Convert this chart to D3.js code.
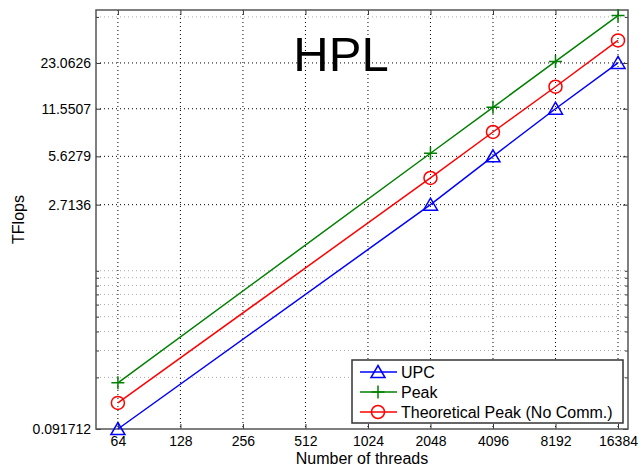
<!DOCTYPE html>
<meta charset="utf-8">
<style>
body { margin: 0; background: #fff; }
text { font-family: "Liberation Sans", Arial, Helvetica, sans-serif; fill: #000; }
.tick text { font-size: 14px; }
</style>
<svg width="642" height="467"></svg>
<script src="https://d3js.org/d3.v7.min.js"></script>
<script>

// HPL performance vs number of threads (log-log)
var threads = [64, 2048, 4096, 8192, 16384];
var upc = [0.091712, 2.7136, 5.6279, 11.5507, 23.0626];
var peak = [0.1843, 5.898, 11.80, 23.59, 47.19];
var theoPeak = [0.136, 4.06, 8.13, 16.1, 32.4];

var xTicks = [64, 128, 256, 512, 1024, 2048, 4096, 8192, 16384];
var yTicks = [0.091712, 2.7136, 5.6279, 11.5507, 23.0626];
var yMinor = [0.2, 0.3, 0.4, 0.5, 0.6, 0.7, 0.8, 0.9, 1, 46.2];

var series = [
  {name: "UPC", values: upc, color: "#0000ff", marker: "triangle"},
  {name: "Peak", values: peak, color: "#008000", marker: "plus"},
  {name: "Theoretical Peak (No Comm.)", values: theoPeak, color: "#ff0000", marker: "circle"}
];

// plot box (note: "top" is reserved on window, so use px names)
var svg = d3.select("svg"),
    pxLeft = 96, pxRight = 628, pxTop = 10, pxBottom = 429;

var x = d3.scaleLog().base(2)
    .domain([50.2, 18304])
    .range([pxLeft, pxRight]);

var y = d3.scaleLog()
    .domain([0.091712, 51.3])
    .range([pxBottom, pxTop]);

// grid
var grid = svg.append("g");
grid.selectAll(".ymin").data(yMinor).enter().append("line")
    .attr("x1", pxLeft).attr("x2", pxRight)
    .attr("y1", function(d) { return y(d); }).attr("y2", function(d) { return y(d); })
    .attr("stroke", "#aaa").attr("stroke-width", 1).attr("stroke-dasharray", "1,3");
grid.selectAll(".ymaj").data(yTicks.slice(1)).enter().append("line")
    .attr("x1", pxLeft).attr("x2", pxRight)
    .attr("y1", function(d) { return y(d); }).attr("y2", function(d) { return y(d); })
    .attr("stroke", "#000").attr("stroke-width", 1).attr("stroke-dasharray", "1,3");
grid.selectAll(".xmaj").data(xTicks).enter().append("line")
    .attr("y1", pxTop).attr("y2", pxBottom)
    .attr("x1", function(d) { return x(d); }).attr("x2", function(d) { return x(d); })
    .attr("stroke", "#000").attr("stroke-width", 1).attr("stroke-dasharray", "1,3");

// axes (ticks inside, as in the original)
var xAxis = svg.append("g")
    .attr("transform", "translate(0," + pxBottom + ")")
    .call(d3.axisBottom(x).tickValues(xTicks).tickFormat(d3.format("d")).tickSizeInner(-5).tickSizeOuter(0).tickPadding(7));
svg.append("g")
    .attr("transform", "translate(0," + pxTop + ")")
    .call(d3.axisTop(x).tickValues(xTicks).tickFormat("").tickSizeInner(-5).tickSizeOuter(0));
svg.append("g")
    .attr("transform", "translate(" + pxLeft + ",0)")
    .call(d3.axisLeft(y).tickValues(yTicks).tickFormat(function(d) { return String(d); }).tickSizeInner(-5).tickSizeOuter(0).tickPadding(5));
svg.append("g")
    .attr("transform", "translate(" + pxRight + ",0)")
    .call(d3.axisRight(y).tickValues(yTicks).tickFormat("").tickSizeInner(-5).tickSizeOuter(0));
svg.append("g").attr("transform", "translate(" + pxLeft + ",0)")
    .call(d3.axisLeft(y).tickValues(yMinor).tickFormat("").tickSizeInner(-3).tickSizeOuter(0));
svg.append("g").attr("transform", "translate(" + pxRight + ",0)")
    .call(d3.axisRight(y).tickValues(yMinor).tickFormat("").tickSizeInner(-3).tickSizeOuter(0));

svg.selectAll(".domain").remove();
svg.selectAll(".tick line").attr("stroke", "#333");
xAxis.selectAll("text").attr("dy", "0.71em");

// frame
svg.append("rect")
    .attr("x", pxLeft).attr("y", pxTop)
    .attr("width", pxRight - pxLeft).attr("height", pxBottom - pxTop)
    .attr("fill", "none").attr("stroke", "#555").attr("stroke-width", 1.5);

// lines + markers
var line = d3.line()
    .x(function(d, i) { return x(threads[i]); })
    .y(function(d) { return y(d); });

function drawMarker(g, type, color) {
  if (type == "triangle") {
    g.append("path").attr("d", "M0,-6.5L7,5.5L-7,5.5Z")
      .attr("fill", "none").attr("stroke", color).attr("stroke-width", 1.5);
  } else if (type == "circle") {
    g.append("circle").attr("r", 6.5)
      .attr("fill", "none").attr("stroke", color).attr("stroke-width", 1.5);
  } else {
    g.append("path").attr("d", "M-6.5,0H6.5M0,-6.5V6.5")
      .attr("fill", "none").attr("stroke", color).attr("stroke-width", 1.5);
  }
}

series.forEach(function(s) {
  svg.append("path")
    .datum(s.values)
    .attr("d", line)
    .attr("fill", "none")
    .attr("stroke", s.color)
    .attr("stroke-width", 1.5);
  s.values.forEach(function(v, i) {
    var m = svg.append("g").attr("transform", "translate(" + x(threads[i]) + "," + y(v) + ")");
    drawMarker(m, s.marker, s.color);
  });
});

// title
svg.append("text")
  .attr("x", 341).attr("y", 71)
  .attr("text-anchor", "middle")
  .style("font-size", "49px")
  .text("HPL");

// axis labels
svg.append("text")
  .attr("x", 362).attr("y", 464)
  .attr("text-anchor", "middle")
  .style("font-size", "16px")
  .text("Number of threads");
svg.append("text")
  .attr("transform", "translate(24," + ((pxTop + pxBottom) / 2) + ") rotate(-90)")
  .attr("text-anchor", "middle")
  .style("font-size", "16px")
  .text("TFlops");

// legend
var lg = svg.append("g").attr("transform", "translate(352,360)");
lg.append("rect")
  .attr("width", 271).attr("height", 63)
  .attr("fill", "#fff").attr("stroke", "#333").attr("stroke-width", 1.5);
series.forEach(function(s, i) {
  var row = lg.append("g").attr("transform", "translate(0," + (12 + i * 20) + ")");
  row.append("line").attr("x1", 8).attr("x2", 45)
    .attr("stroke", s.color).attr("stroke-width", 1.5);
  var m = row.append("g").attr("transform", "translate(26,0)");
  drawMarker(m, s.marker, s.color);
  row.append("text").attr("x", 49).attr("dy", "0.35em")
    .style("font-size", "16px")
    .text(s.name);
});

</script>
